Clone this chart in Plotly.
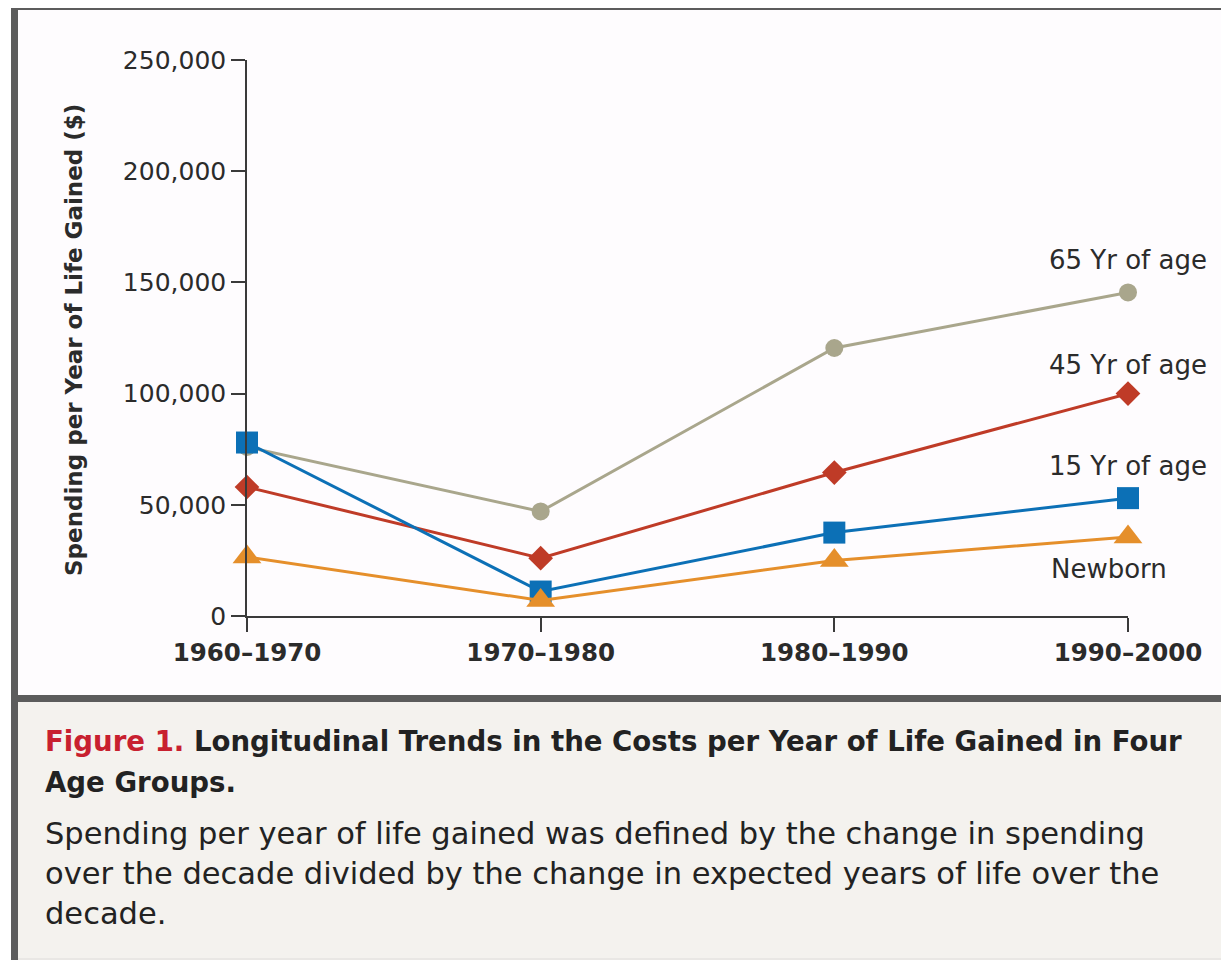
import plotly.graph_objects as go

W, H = 1229, 960
OFF = 8  # page body margin offset

decades = ["1960–1970", "1970–1980", "1980–1990", "1990–2000"]
age65 = [76000, 47000, 120500, 145500]
age45 = [58000, 26000, 64500, 100000]
age15 = [78000, 11000, 37500, 53000]
newborn = [26500, 7000, 25000, 35500]

series_names = ["65 Yr of age", "45 Yr of age", "15 Yr of age", "Newborn"]
y_ticks = [0, 50000, 100000, 150000, 200000, 250000]

FONT = "DejaVu Sans"
TXT = "#2b2b2b"

def px(x):
    return (x - OFF) / W

def py(y):
    return 1 - (y - OFF) / H

fig = go.Figure()

styles = [
    (age65, "#a9a68c", "circle", 18, series_names[0]),
    (age45, "#bf3b27", "diamond", 19, series_names[1]),
    (age15, "#0c70b6", "square", 22, series_names[2]),
    (newborn, "#e58f2b", "triangle-up", 25, series_names[3]),
]
for vals, col, sym, sz, name in styles:
    fig.add_trace(go.Scatter(
        x=decades, y=vals, mode="lines+markers", name=name,
        line=dict(color=col, width=3),
        marker=dict(symbol=sym, size=sz, color=col, line=dict(width=0)),
        cliponaxis=False, showlegend=False,
    ))

axis_col = "#3a3a3a"
fig.update_layout(
    width=W, height=H,
    margin=dict(l=0, r=0, t=0, b=0, autoexpand=False),
    paper_bgcolor="#ffffff",
    plot_bgcolor="rgba(0,0,0,0)",
    font=dict(family=FONT, color=TXT),
    showlegend=False,
    xaxis=dict(
        domain=[px(247), px(1128)],
        type="category", range=[0, 3], automargin=False,
        showline=True, linecolor=axis_col, linewidth=1.5,
        ticks="outside", ticklen=14, tickwidth=1.5, tickcolor=axis_col,
        showgrid=False, zeroline=False,
        tickfont=dict(family=FONT, size=24.5, color=TXT, weight="bold"),
    ),
    yaxis=dict(
        domain=[py(616), py(60)],
        range=[0, 250000], automargin=False,
        tickvals=y_ticks, tickformat=",",
        showline=True, linecolor=axis_col, linewidth=1.5,
        ticks="outside", ticklen=14, tickwidth=1.5, tickcolor=axis_col,
        showgrid=False, zeroline=False,
        tickfont=dict(family=FONT, size=25, color=TXT),
    ),
)

shapes = [
    dict(type="rect", xref="paper", yref="paper", x0=px(11), x1=px(1250), y0=py(975), y1=py(4),
         fillcolor="#5c5c5c", line=dict(width=0), layer="below"),
    dict(type="rect", xref="paper", yref="paper", x0=px(18), x1=px(1250), y0=py(695), y1=py(10),
         fillcolor="#fefcfe", line=dict(width=0), layer="below"),
    dict(type="rect", xref="paper", yref="paper", x0=px(18), x1=px(1250), y0=py(958), y1=py(702),
         fillcolor="#f4f2ee", line=dict(width=0), layer="below"),
    dict(type="rect", xref="paper", yref="paper", x0=px(18), x1=px(1250), y0=py(975), y1=py(958),
         fillcolor="#e9e7e4", line=dict(width=0), layer="below"),
]
fig.update_layout(shapes=shapes)

ann = []
ann.append(dict(x=px(74), y=py(340), xref="paper", yref="paper", text="<b>Spending per Year of Life Gained ($)</b>",
                textangle=-90, showarrow=False, font=dict(family=FONT, size=23, color=TXT),
                xanchor="center", yanchor="middle"))
label_pos = [(1047, 260), (1047, 365), (1047, 466), (1049, 569)]
for (lx, ly), name in zip(label_pos, series_names):
    ann.append(dict(x=px(lx), y=py(ly), xref="paper", yref="paper", text=name, showarrow=False,
                    xanchor="left", yanchor="middle", font=dict(family=FONT, size=26, color=TXT)))
cap_bold = [
    (741, "<b><span style='color:#c8202f'>Figure 1.</span> Longitudinal Trends in the Costs per Year of Life Gained in Four</b>"),
    (782, "<b>Age Groups.</b>"),
]
cap_reg = [
    (833, "Spending per year of life gained was defined by the change in spending"),
    (873, "over the decade divided by the change in expected years of life over the"),
    (913, "decade."),
]
for ly, t in cap_bold:
    ann.append(dict(x=px(43), y=py(ly), xref="paper", yref="paper", text=t, showarrow=False,
                    xanchor="left", yanchor="middle", font=dict(family=FONT, size=27.6, color="#222222")))
for ly, t in cap_reg:
    ann.append(dict(x=px(43), y=py(ly), xref="paper", yref="paper", text=t, showarrow=False,
                    xanchor="left", yanchor="middle", font=dict(family=FONT, size=30.5, color="#222222")))
fig.update_layout(annotations=ann)

fig.write_html("out.html")
